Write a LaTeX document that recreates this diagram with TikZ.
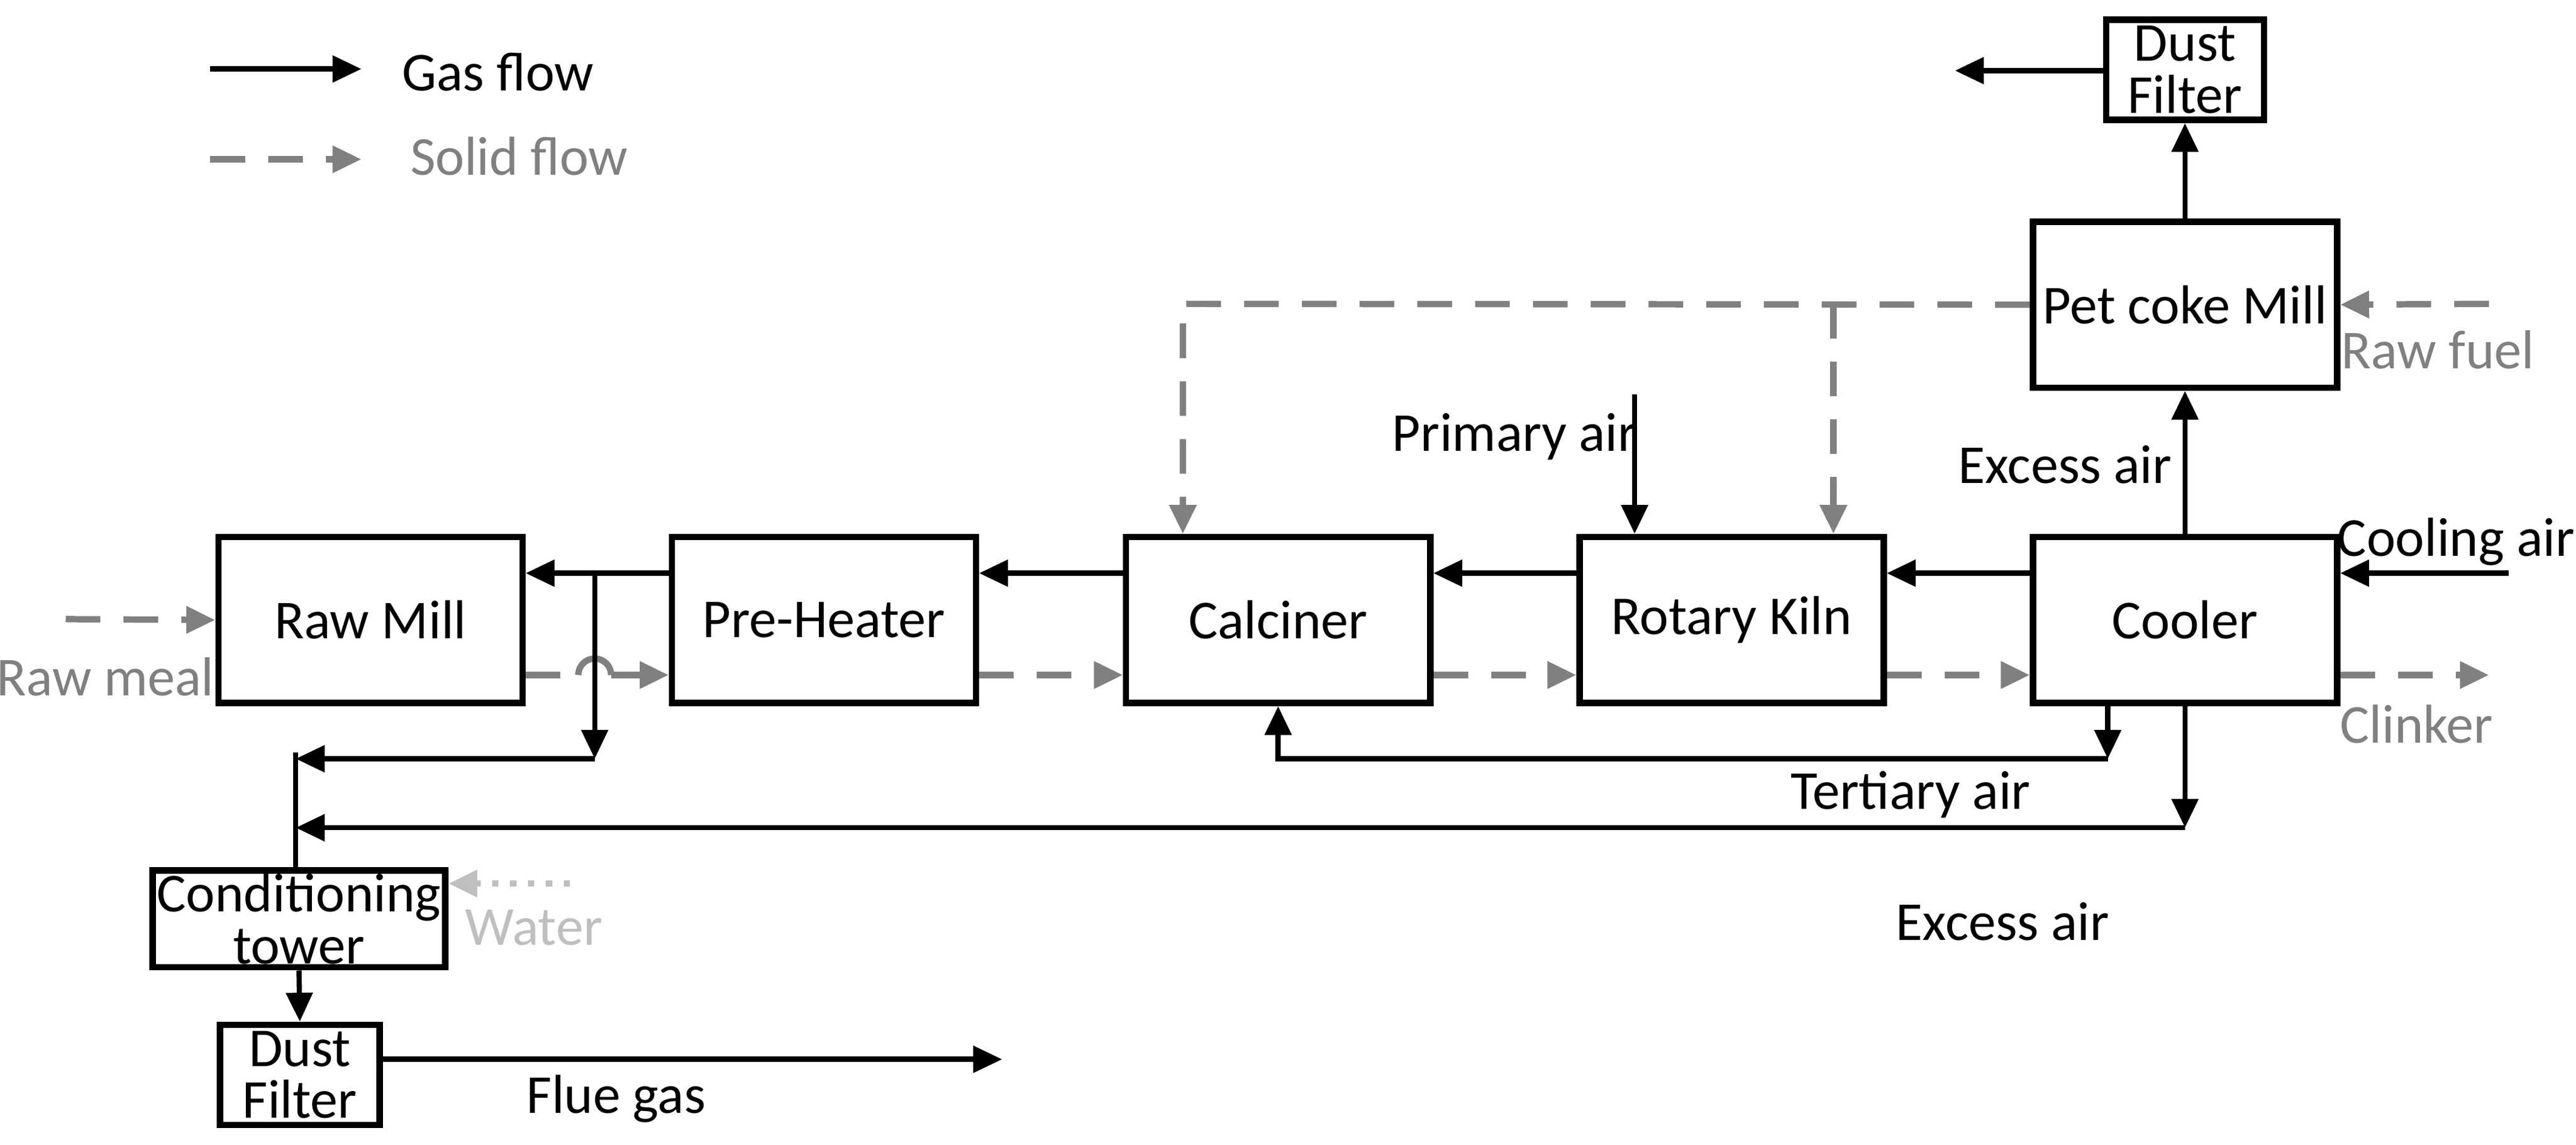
\documentclass[tikz,border=0pt]{standalone}
\usepackage{fontspec}
\setmainfont{Carlito}
\usetikzlibrary{calc,arrows.meta}
\begin{document}
\begin{tikzpicture}[x=0.01cm,y=-0.01cm,font=\fontsize{9.5}{10.5}\selectfont]
      \tikzset{unit/.style={draw=black,line width=1.1pt,minimum width=1.85cm,minimum height=1.01cm,inner sep=1pt,align=center},
               gas/.style={draw=black,line width=0.9pt,-{Triangle[length=5pt,width=4.5pt]}},
               solid/.style={draw=gray,line width=1.1pt,dashed,dash pattern=on 6pt off 4pt,-{Triangle[length=5pt,width=4.5pt]}},
               water/.style={draw=lightgray,line width=1.1pt,dotted,-{Triangle[length=5pt,width=4.5pt]}},
               glabel/.style={text=gray}}
      \useasboundingbox (0,0) rectangle (1568,697);
      % units
      \node[unit] (rawmill) at (225.5,377.5) {Raw Mill};
\node[unit] (preheater) at (501.5,377.5) {Pre-Heater};
\node[unit] (calciner) at (778,377.5) {Calciner};
\node[unit] (kiln) at (1054,377.5) {Rotary Kiln};
\node[unit] (cooler) at (1330,377.5) {Cooler};
\node[unit] (petcoke) at (1330,185.5) {Pet coke Mill};
\node[unit,minimum width=0.96cm,minimum height=0.61cm,inner sep=0pt,font=\fontsize{9.5}{9}\selectfont] (filtertop) at (1330,42.5) {Dust\\Filter};
\node[unit,minimum width=1.78cm,minimum height=0.59cm,inner sep=0pt,font=\fontsize{9.5}{9}\selectfont] (tower) at (182,559.5) {Conditioning\\tower};
\node[unit,minimum width=0.97cm,minimum height=0.61cm,inner sep=0pt,font=\fontsize{9.5}{9}\selectfont] (filterbot) at (182.5,654.5) {Dust\\Filter};
      % legend
      \coordinate (lg1) at (128,42); \coordinate (lg2) at (220,42);
\coordinate (ls1) at (128,97); \coordinate (ls2) at (220,97);
\draw[gas] (lg1) -- (lg2);
\draw[solid] (ls1) -- (ls2);
\node (lgas) at (303,44) {Gas flow};
\node[glabel] (lsolid) at (316,95) {Solid flow};
      % gas line
\draw[gas] ($(cooler.west)+(0,-28.5)$) -- ($(kiln.east)+(0,-28.5)$);
\draw[gas] ($(kiln.west)+(0,-28.5)$) -- ($(calciner.east)+(0,-28.5)$);
\draw[gas] ($(calciner.west)+(0,-28.5)$) -- ($(preheater.east)+(0,-28.5)$);
\draw[gas] ($(preheater.west)+(0,-28.5)$) -- ($(rawmill.east)+(0,-28.5)$);
      % solid line
\coordinate (rm0) at (40,377);
\draw[solid] (rm0) -- (rawmill.west);
\node[glabel] (lrawmeal) at (64,412) {Raw meal};
\draw[draw=gray,line width=1.1pt,dashed,dash pattern=on 6pt off 4pt] ($(rawmill.east)+(0,33.5)$) -- (352,411);
\draw[draw=gray,line width=1.1pt] (352,411) arc (180:360:10);
\draw[solid] (372,411) -- ($(preheater.west)+(0,33.5)$);
\draw[solid] ($(preheater.east)+(0,33.5)$) -- ($(calciner.west)+(0,33.5)$);
\draw[solid] ($(calciner.east)+(0,33.5)$) -- ($(kiln.west)+(0,33.5)$);
\draw[solid] ($(kiln.east)+(0,33.5)$) -- ($(cooler.west)+(0,33.5)$);
\coordinate (clk) at (1515,411);
\draw[solid] ($(cooler.east)+(0,33.5)$) -- (clk);
\node[glabel] (lclinker) at (1471,441) {Clinker};
      % raw mill gas out
\coordinate (rg1) at (362,349); \coordinate (rg2) at (362,462);
\coordinate (rg3) at (180,462); \coordinate (rg4) at (180,504);
\draw[gas] (rg1) -- (rg2);
\draw[gas] (rg2) -- (rg3);
\draw[line width=0.9pt] (180,458) -- (tower.north -| 180,0);
      % excess air from cooler
\coordinate (ex1) at (1330,504);
\draw[gas] (cooler.south) -- (ex1);
\draw[gas] (ex1) -- (rg4);
\node (lexcess2) at (1219,561) {Excess air};
      % tertiary air
\coordinate (ta0) at (1283,428); \coordinate (ta1) at (1283,462); \coordinate (ta2) at (778,462);
\draw[gas] (ta0) -- (ta1);
\draw[gas] (ta1) -- (ta2) -- (calciner.south);
\node (ltertiary) at (1163,484) {Tertiary air};
      % cooler to pet coke mill
\draw[gas] (cooler.north) -- (petcoke.south);
\node (lexcess1) at (1257,283) {Excess air};
\draw[gas] (petcoke.north) -- (filtertop.south);
\coordinate (ft0) at (1190,43);
\draw[gas] (filtertop.west |- ft0) -- (ft0);
      % cooling air, raw fuel
\coordinate (ca0) at (1527,349);
\draw[gas] (ca0) -- ($(cooler.east)+(0,-28.5)$);
\node (lcooling) at (1495,330) {Cooling air};
\coordinate (rf0) at (1515,185);
\draw[solid] (rf0) -- (petcoke.east);
\node[glabel] (lrawfuel) at (1484,213) {Raw fuel};
      % fuel to calciner and kiln
\coordinate (pf1) at (720,185); \coordinate (pf2) at (1116,185);
\draw[solid] (petcoke.west) -- (pf1) -- (pf1 |- calciner.north);
\draw[solid] (pf2) -- (pf2 |- kiln.north);
\coordinate (pa0) at (995,240);
\draw[gas] (pa0) -- (pa0 |- kiln.north);
\node (lprimary) at (922,266) {Primary air};
      % water, flue gas
\coordinate (wt0) at (347,538);
\draw[water] (wt0) -- (tower.east |- wt0);
\node[text=lightgray] (lwater) at (325,565) {Water};
\draw[gas] (tower.south) -- (filterbot.north);
\coordinate (fg0) at (610,645);
\draw[gas] (filterbot.east |- fg0) -- (fg0);
\node (lflue) at (375,669) {Flue gas};
    \end{tikzpicture}
\end{document}
